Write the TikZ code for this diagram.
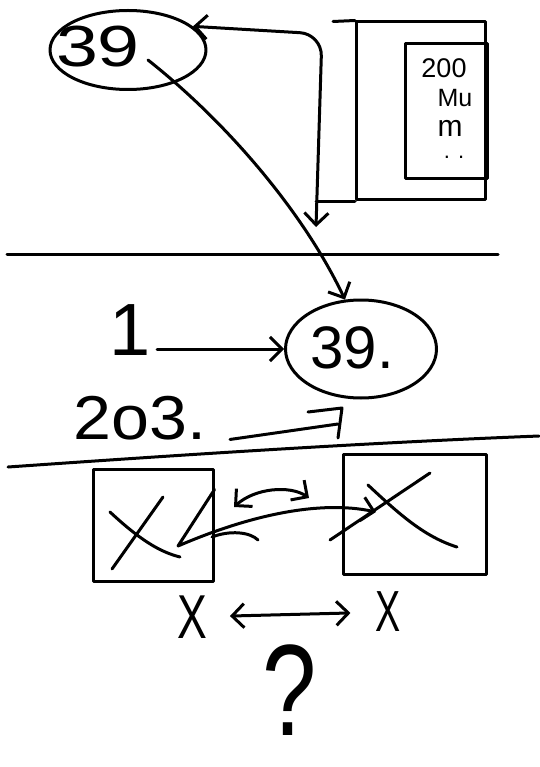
\documentclass[tikz,border=0pt]{standalone}
\usepackage{fontspec}
\setmainfont{Liberation Sans}
\usetikzlibrary{shapes.geometric,arrows.meta}

\begin{document}
\begin{tikzpicture}[x=1pt, y=-1pt, line width=3pt, line cap=round, line join=round,
    >={Straight Barb[length=12pt,width=24pt]},
    blob/.style={draw, ellipse, inner sep=0pt},
    boxframe/.style={draw, rectangle, inner sep=0pt},
    big/.style={font=\fontsize{#1}{#1}\selectfont, inner sep=0pt}]

    \useasboundingbox (0,0) rectangle (539,767);

    % Top: bubble and the page
    \node[blob, minimum width=156pt, minimum height=79pt] (top39) at (128,50) {};
    \node[big=58, xscale=1.3, transform shape] (top39txt) at (98,47) {39};

    \node[boxframe, minimum width=129pt, minimum height=178pt] (page) at (421,111) {};
    \node[boxframe, minimum width=82pt, minimum height=135pt] (card) at (446,111) {};
    \draw (page.north west) -- ++(-22,1);

    % Page text
    \node[big=27] (year) at (444,68) {200};
    \node[big=25] (mu) at (455,98) {Mu};
    \node[big=30] (mm) at (450,128) {m};
    \node[big=22] (dots) at (454,157) {. .};

    % Page <-> bubble
    \coordinate (turn) at (322,34);
    \coordinate (drop) at (316,227);
    \draw[<->, rounded corners=22pt] (top39.20) -- (turn) -- (drop);
    \draw (drop |- page.south) -- (page.south west);

    % Bubble down to the next row
    \node[blob, minimum width=151pt, minimum height=98pt] (low39) at (361,349) {};
    \node[big=60] (low39txt) at (352,348) {39.};
    \draw[->] ([shift={(20,10)}]top39.center) .. controls (230,125) and (305,215) .. (low39.108);

    % Divider 1
    \draw (7,254) -- (498,254);

    % Middle row
    \node[big=74] (one) at (130,330) {1};
    \draw[->, shorten <=5pt] (one.east |- low39.west) -- (low39.west);

    \node[big=62, xscale=1.1, transform shape] (two03) at (140,418) {2o3.};
    \coordinate (hook) at (338,424);
    \draw ([xshift=22pt,yshift=2pt]two03.south east) -- (hook);
    \draw ([shift={(-30,-12)}]hook) -- ([shift={(4,-16)}]hook) -- ([shift={(0,14)}]hook);

    % Divider 2
    \draw (8,467) .. controls (180,455) and (360,443) .. (539,436);

    % Bottom row: two boxes
    \node[boxframe, minimum width=120pt, minimum height=112pt] (lbox) at (153,525) {};
    \node[boxframe, minimum width=143pt, minimum height=120pt] (rbox) at (415,514) {};

    \draw (110,512) .. controls (140,540) and (160,552) .. (180,557);
    \draw (163,497) -- (112,569);
    \draw (368,485) .. controls (400,515) and (425,537) .. (457,547);
    \draw (430,473) -- (330,540);

    % Box <-> box
    \coordinate (la) at (234,507);
    \coordinate (ra) at (309,498);
    \draw[<->] (la) .. controls (255,488) and (290,485) .. (ra);
    \coordinate (lz) at (178,546);
    \coordinate (rz) at (376,512);
    \draw[->] ([yshift=-22pt]lbox.north east) -- (lz) .. controls (250,515) and (320,500) .. (rz);
    \draw (212,537) .. controls (230,530) and (250,532) .. (258,540);

    % X <-> X
    \node[big=62, xscale=0.72, transform shape] (xl) at (192,617) {X};
    \node[big=58, xscale=0.65, transform shape] (xr) at (388,612) {X};
    \draw[<->, shorten <=22pt, shorten >=24pt] (xl) -- (xr);

    % Question
    \node[big=130, xscale=0.75, transform shape] (quest) at (290,690) {?};

\end{tikzpicture}
\end{document}
